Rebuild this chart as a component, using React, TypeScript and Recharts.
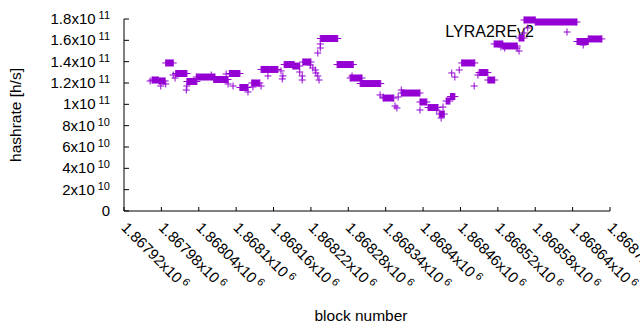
import React from 'react';
import { ScatterChart, Scatter, XAxis, YAxis, ErrorBar } from 'recharts';

const COLOR = '#9400D3';
const FONT = '"Liberation Sans", Arial, sans-serif';

// x axis ticks (block numbers) and their labels
const X_TICKS = [1867920, 1867980, 1868040, 1868100, 1868160, 1868220, 1868280, 1868340, 1868400, 1868460, 1868520, 1868580, 1868640, 1868700];
const X_TICK_MANTISSA = ['1.86792', '1.86798', '1.86804', '1.8681', '1.86816', '1.86822', '1.86828', '1.86834', '1.8684', '1.86846', '1.86852', '1.86858', '1.86864', '1.8687'];
const X_TICK_EXP = ['6', '6', '6', '6', '6', '6', '6', '6', '6', '6', '6', '6', '6', '6'];

// y axis ticks (hashrate) and their labels
const Y_TICKS = [0, 2e10, 4e10, 6e10, 8e10, 1e11, 1.2e11, 1.4e11, 1.6e11, 1.8e11];
const Y_TICK_MANTISSA = ['0', '2', '4', '6', '8', '1', '1.2', '1.4', '1.6', '1.8'];
const Y_TICK_EXP = ['', '10', '10', '10', '10', '11', '11', '11', '11', '11'];

// runs of consecutive blocks with the same hashrate
const runStart = [1867965, 1867976, 1867987, 1868003, 1868021, 1868036, 1868064, 1868089, 1868106, 1868125, 1868140, 1868154, 1868177, 1868191, 1868207, 1868235, 1868262, 1868283, 1868299, 1868336, 1868365, 1868395, 1868408, 1868426, 1868437, 1868444, 1868462, 1868490, 1868504, 1868514, 1868528, 1868554, 1868562, 1868580, 1868647, 1868665];
const runEnd = [1867975, 1867986, 1867999, 1868021, 1868037, 1868066, 1868087, 1868106, 1868119, 1868138, 1868153, 1868167, 1868193, 1868202, 1868220, 1868263, 1868288, 1868302, 1868332, 1868353, 1868395, 1868406, 1868424, 1868434, 1868443, 1868451, 1868483, 1868504, 1868515, 1868528, 1868551, 1868562, 1868580, 1868647, 1868665, 1868687];
const runValue = [1.228e11, 1.219e11, 1.388e11, 1.289e11, 1.214e11, 1.256e11, 1.233e11, 1.289e11, 1.158e11, 1.2e11, 1.327e11, 1.327e11, 1.373e11, 1.359e11, 1.397e11, 1.617e11, 1.373e11, 1.247e11, 1.195e11, 1.059e11, 1.106e11, 1.022e11, 9.7e10, 9.09e10, 1.031e11, 1.073e11, 1.388e11, 1.298e11, 1.228e11, 1.566e11, 1.547e11, 1.622e11, 1.791e11, 1.772e11, 1.589e11, 1.613e11];

// isolated blocks
const singleBlock = [1867962, 1867979, 1867987, 1867999, 1868002, 1868021, 1868020, 1868060, 1868084, 1868087, 1868095, 1868119, 1868127, 1868140, 1868151, 1868172, 1868175, 1868174, 1868202, 1868206, 1868206, 1868219, 1868223, 1868227, 1868228, 1868231, 1868233, 1868231, 1868235, 1868235, 1868286, 1868331, 1868336, 1868355, 1868358, 1868360, 1868365, 1868395, 1868422, 1868432, 1868429, 1868446, 1868451, 1868458, 1868482, 1868488, 1868525, 1868531, 1868551, 1868554, 1868562, 1868568, 1868657];
const singleValue = [1.219e11, 1.172e11, 1.191e11, 1.275e11, 1.247e11, 1.172e11, 1.134e11, 1.275e11, 1.284e11, 1.191e11, 1.172e11, 1.116e11, 1.163e11, 1.172e11, 1.266e11, 1.313e11, 1.266e11, 1.238e11, 1.303e11, 1.266e11, 1.228e11, 1.369e11, 1.341e11, 1.322e11, 1.294e11, 1.266e11, 1.228e11, 1.481e11, 1.528e11, 1.566e11, 1.266e11, 1.088e11, 1.069e11, 9.84e10, 9.66e10, 1.069e11, 1.134e11, 9.47e10, 9.47e10, 9.75e10, 8.72e10, 1.294e11, 1.256e11, 1.322e11, 1.172e11, 1.275e11, 1.538e11, 1.528e11, 1.528e11, 1.5e11, 1.669e11, 1.716e11, 1.556e11];

const SERIES_NAME = 'LYRA2REv2';

const runBars = runStart.map((s, i) => ({ block: (s + runEnd[i]) / 2, value: runValue[i], half: (runEnd[i] - s) / 2 }));
const runEnds = runStart.flatMap((s, i) => [
  { block: s, value: runValue[i] },
  { block: runEnd[i], value: runValue[i] },
]);
const singles = singleBlock.map((b, i) => ({ block: b, value: singleValue[i] }));

const Plus = (props: any) => {
  const { cx, cy } = props;
  if (cx == null || cy == null) return <g />;
  return <path d={`M${cx - 3.5},${cy}h7M${cx},${cy - 3.5}v7`} stroke={COLOR} strokeWidth={1} fill="none" />;
};
const Empty = () => <g />;

const XTick = (props: any) => {
  const { x, y, payload } = props;
  const i = X_TICKS.indexOf(payload.value);
  return (
    <g transform={`translate(${x},${y}) rotate(45)`}>
      <text x={0} y={5} textAnchor="start" fontSize={15} fill="#000" fontFamily={FONT}>
        {X_TICK_MANTISSA[i]}x10
        <tspan dx={3} dy={-5} fontSize={11}>{X_TICK_EXP[i]}</tspan>
      </text>
    </g>
  );
};

const YTick = (props: any) => {
  const { x, y, payload } = props;
  const i = Y_TICKS.indexOf(payload.value);
  if (!Y_TICK_EXP[i]) {
    return (
      <text x={x} y={y + 5} textAnchor="end" fontSize={15} fill="#000" fontFamily={FONT}>
        {Y_TICK_MANTISSA[i]}
      </text>
    );
  }
  return (
    <text x={x} y={y + 5} textAnchor="end" fontSize={15} fill="#000" fontFamily={FONT}>
      {Y_TICK_MANTISSA[i]}x10
      <tspan dx={3} dy={-5} fontSize={11}>{Y_TICK_EXP[i]}</tspan>
    </text>
  );
};

export default function App() {
  return (
    <div style={{ position: 'absolute', left: 0, top: 0, background: '#fff' }}>
      <ScatterChart width={640} height={330} margin={{ top: 19, right: 30, bottom: 0, left: 0 }}>
        <XAxis xAxisId="b" type="number" dataKey="block" domain={[1867920, 1868700]} ticks={X_TICKS} interval={0}
          height={119} tickSize={-4} tickMargin={18} stroke="#000" tick={(p: any) => <XTick {...p} />} />
        <XAxis xAxisId="t" orientation="top" type="number" dataKey="block" domain={[1867920, 1868700]} ticks={X_TICKS} interval={0}
          height={0} tickSize={-4} stroke="#000" tick={Empty} />
        <YAxis yAxisId="l" type="number" dataKey="value" domain={[0, 1.8e11]} ticks={Y_TICKS} interval={0}
          width={124} tickSize={-5} tickMargin={19} stroke="#000" tick={(p: any) => <YTick {...p} />} />
        <YAxis yAxisId="r" orientation="right" type="number" dataKey="value" domain={[0, 1.8e11]} ticks={Y_TICKS} interval={0}
          width={0} tickSize={-5} stroke="#000" tick={Empty} />
        <Scatter xAxisId="t" yAxisId="r" data={singles} shape={Empty} isAnimationActive={false} />
        <Scatter xAxisId="b" yAxisId="l" data={runBars} shape={Empty} isAnimationActive={false}>
          <ErrorBar dataKey="half" direction="x" width={0} stroke={COLOR} strokeWidth={7} />
        </Scatter>
        <Scatter xAxisId="b" yAxisId="l" data={runEnds} shape={Plus} isAnimationActive={false} />
        <Scatter xAxisId="b" yAxisId="l" data={singles} shape={Plus} isAnimationActive={false} />
        <text x={21} y={115} transform="rotate(-90, 21, 115)" textAnchor="middle" fontSize={15.5} fill="#000" fontFamily={FONT}>hashrate [h/s]</text>
        <text x={361} y={321} textAnchor="middle" fontSize={15.5} fill="#000" fontFamily={FONT}>block number</text>
        <text x={534} y={37} textAnchor="end" fontSize={16} fill="#000" fontFamily={FONT}>{SERIES_NAME}</text>
        <path d="M563.5,32h7M567,28.5v7" stroke={COLOR} strokeWidth={1} fill="none" />
      </ScatterChart>
    </div>
  );
}
